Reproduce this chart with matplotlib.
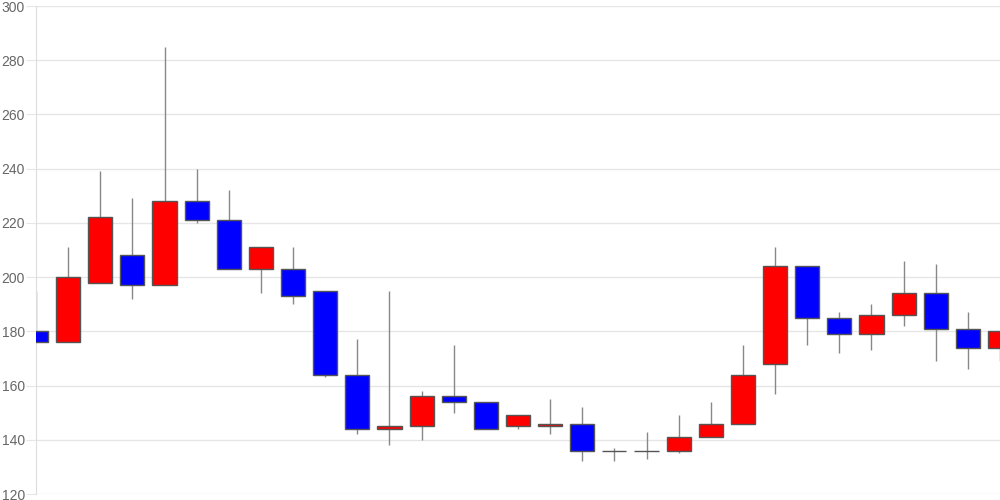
import numpy as np
import matplotlib
matplotlib.use("Agg")
import matplotlib.pyplot as plt

plt.rcParams['font.family'] = ['Liberation Sans', 'DejaVu Sans']

# OHLC values (one candle per period)
opens = [180, 176, 198, 208, 197, 228, 221, 203, 203, 195, 164, 144, 145, 156, 154, 145,
         145, 146, 136, 136, 136, 141, 146, 168, 204, 185, 179, 186, 194, 181, 174]
highs = [195, 211, 239, 229, 285, 240, 232, 211, 211, 195, 177, 195, 158, 175, 154, 149,
         155, 152, 137, 143, 149, 154, 175, 211, 204, 187, 190, 206, 205, 187, 180]
lows = [176, 176, 198, 192, 197, 220, 203, 194, 190, 163, 142, 138, 140, 150, 144, 144,
        142, 132, 132, 133, 135, 141, 146, 157, 175, 172, 173, 182, 169, 166, 169]
closes = [176, 200, 222, 197, 228, 221, 203, 211, 193, 164, 144, 145, 156, 154, 144, 149,
          146, 136, 136, 136, 141, 146, 164, 204, 185, 179, 186, 194, 181, 174, 180]

y_ticks = [120, 140, 160, 180, 200, 220, 240, 260, 280, 300]

fig = plt.figure(figsize=(10, 5), dpi=100)
ax = fig.add_axes([0.036, 0.012, 0.964, 0.976])

x = np.arange(len(opens))
o = np.array(opens)
c = np.array(closes)
h = np.array(highs)
l = np.array(lows)

# wicks
ax.vlines(x, l, h, color="#888888", linewidth=1, zorder=2)

# bodies
up = c > o
down = c < o
flat = c == o
body_w = 0.75
ax.bar(x[up], (c - o)[up], bottom=o[up], width=body_w, color="#ff0000",
       edgecolor="#555555", linewidth=1, zorder=3)
ax.bar(x[down], (c - o)[down], bottom=o[down], width=body_w, color="#0000ff",
       edgecolor="#555555", linewidth=1, zorder=3)
ax.hlines(o[flat], x[flat] - body_w / 2, x[flat] + body_w / 2,
          color="#555555", linewidth=1, zorder=3)

ax.set_xlim(0, len(opens) - 1)
ax.set_ylim(120, 300)
ax.set_yticks(y_ticks)
ax.set_xticks([])
ax.grid(axis="y", color="#e6e6e6", linewidth=1, zorder=0)
ax.set_axisbelow(True)

for side in ["top", "right", "bottom"]:
    ax.spines[side].set_visible(False)
ax.spines["left"].set_color("#dddddd")
ax.tick_params(axis="y", length=7, color="#e6e6e6", labelcolor="#666666",
               labelsize=10, pad=1)

fig.savefig("out.png", dpi=100)
